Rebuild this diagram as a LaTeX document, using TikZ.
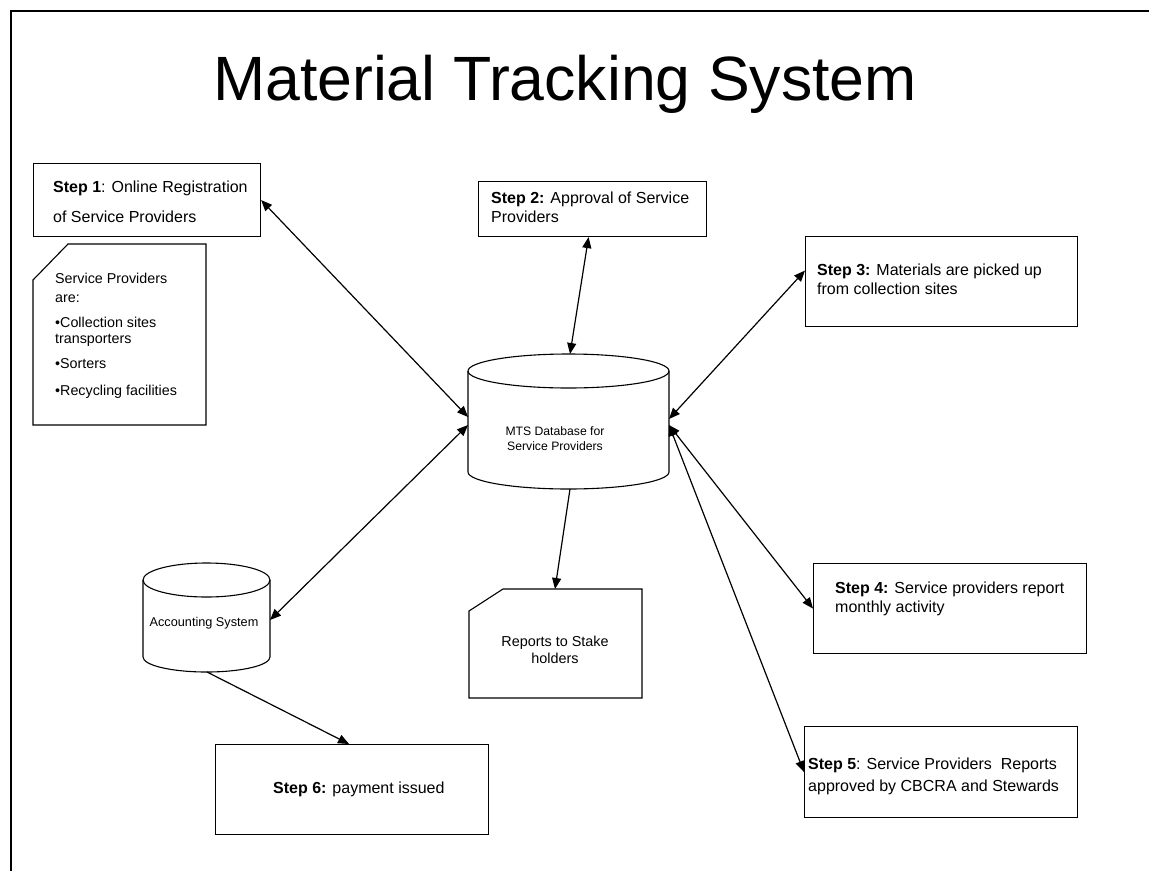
\documentclass[tikz,border=0pt]{standalone}
\usepackage{fontspec}
\setmainfont{Liberation Sans}
\usetikzlibrary{arrows.meta,calc}
\begin{document}
\begin{tikzpicture}[x=1pt,y=-1pt,
  box/.style={draw,line width=1.1pt,inner sep=0pt,anchor=north west},
  shp/.style={draw,line width=1.1pt},
  tx/.style={anchor=base west,inner sep=0pt,font=\fontsize{16}{19}\selectfont},
  txs/.style={anchor=base west,inner sep=0pt,font=\fontsize{14.3}{17}\selectfont},
  conn/.style={line width=1.2pt,-{Triangle[length=11pt,width=9pt]}},
  dconn/.style={line width=1.2pt,{Triangle[length=11pt,width=9pt]}-{Triangle[length=11pt,width=9pt]}}]
\useasboundingbox (0,0) rectangle (1149,871);
\fill[white] (0,0) rectangle (1149,871);
% page border
\draw[line width=1.5pt] (11,871) -- (11,11) -- (1149,11);
% title
\node[anchor=base,inner sep=0pt,font=\fontsize{62.6}{70}\selectfont] (title) at (565,100) {Material Tracking System};
% boxes
\node[box,minimum width=227pt,minimum height=73pt] (s1) at (33,163) {};
\node[box,minimum width=228pt,minimum height=55pt] (s2) at (478,181) {};
\node[box,minimum width=272pt,minimum height=90pt] (s3) at (805,236) {};
\node[box,minimum width=273pt,minimum height=90pt] (s4) at (813,563) {};
\node[box,minimum width=273pt,minimum height=91pt] (s5) at (804,726) {};
\node[box,minimum width=273pt,minimum height=90pt] (s6) at (215,744) {};
% box texts
\node[tx] (t1a) at (53,192.5) {\textbf{Step 1}: Online Registration};
\node[tx] (t1b) at (53,222.5) {of Service Providers};
\node[tx] (t2a) at (491,203.5) {\textbf{Step 2:} Approval of Service};
\node[tx] (t2b) at (491,222.5) {Providers};
\node[tx] (t3a) at (817,275.5) {\textbf{Step 3:} Materials are picked up};
\node[tx] (t3b) at (817,294.5) {from collection sites};
\node[tx] (t4a) at (835,593.5) {\textbf{Step 4:} Service providers report};
\node[tx] (t4b) at (835,612.5) {monthly activity};
\node[tx] (t5a) at (808,769.5) {\textbf{Step 5}: Service Providers\ \ Reports};
\node[tx] (t5b) at (808,791.5) {approved by CBCRA and Stewards};
\node[tx] (t6) at (273,793.5) {\textbf{Step 6:} payment issued};
% note: service providers
\draw[shp] (68,244) -- (206,244) -- (206,425) -- (33,425) -- (33,280) -- cycle;
\node[txs] (n1) at (55,283) {Service Providers};
\node[txs] (n2) at (55,302) {are:};
\node[txs] (n3) at (55,327) {•Collection sites};
\node[txs] (n4) at (55,343) {transporters};
\node[txs] (n5) at (55,368) {•Sorters};
\node[txs] (n6) at (55,395) {•Recycling facilities};
% reports note
\draw[shp] (503,589) -- (642,589) -- (642,698) -- (469,698) -- (469,611) -- cycle;
\coordinate (rep) at (555,589);
\node[anchor=base,inner sep=0pt,font=\fontsize{14.4}{17}\selectfont] (r1) at (555,646) {Reports to Stake};
\node[anchor=base,inner sep=0pt,font=\fontsize{14.4}{17}\selectfont] (r2) at (555,663) {holders};
% MTS cylinder
\draw[shp] (568.5,371) ellipse [x radius=100.5pt, y radius=17pt];
\draw[shp] (468,371) -- (468,472) arc[start angle=180,end angle=360,x radius=100.5pt,y radius=17pt] -- (669,371);
\node[anchor=base,inner sep=0pt,font=\fontsize{12.2}{15}\selectfont] (m1) at (555,435.5) {MTS Database for};
\node[anchor=base,inner sep=0pt,font=\fontsize{12.2}{15}\selectfont] (m2) at (555,450.5) {Service Providers};
\coordinate (mtop) at (570,354);
\coordinate (mbot) at (570,489);
\coordinate (mL1) at (468,417);
\coordinate (mL2) at (468,425);
\coordinate (mR1) at (669,419);
\coordinate (mR2) at (669,425);
% Accounting cylinder
\draw[shp] (206.5,580) ellipse [x radius=63.5pt, y radius=17pt];
\draw[shp] (143,580) -- (143,657) arc[start angle=180,end angle=360,x radius=63.5pt,y radius=15pt] -- (270,580);
\node[anchor=base,inner sep=0pt,font=\fontsize{12.7}{15}\selectfont] (acc) at (204,626.5) {Accounting System};
\coordinate (aR) at (270,620);
\coordinate (aB) at (207,672);
% connectors
\draw[dconn] (s1.east) -- (mL1);
\draw[dconn] ([xshift=-4pt]s2.south) -- (mtop);
\draw[dconn] ([yshift=11pt]s3.west) -- (mR1);
\draw[dconn] (s4.west) -- (mR2);
\draw[dconn] (s5.west) -- (mR2);
\draw[conn] (mbot) -- (rep);
\draw[dconn] (mL2) -- (aR);
\draw[conn] (aB) -- ([xshift=-3pt]s6.north);
\end{tikzpicture}
\end{document}
